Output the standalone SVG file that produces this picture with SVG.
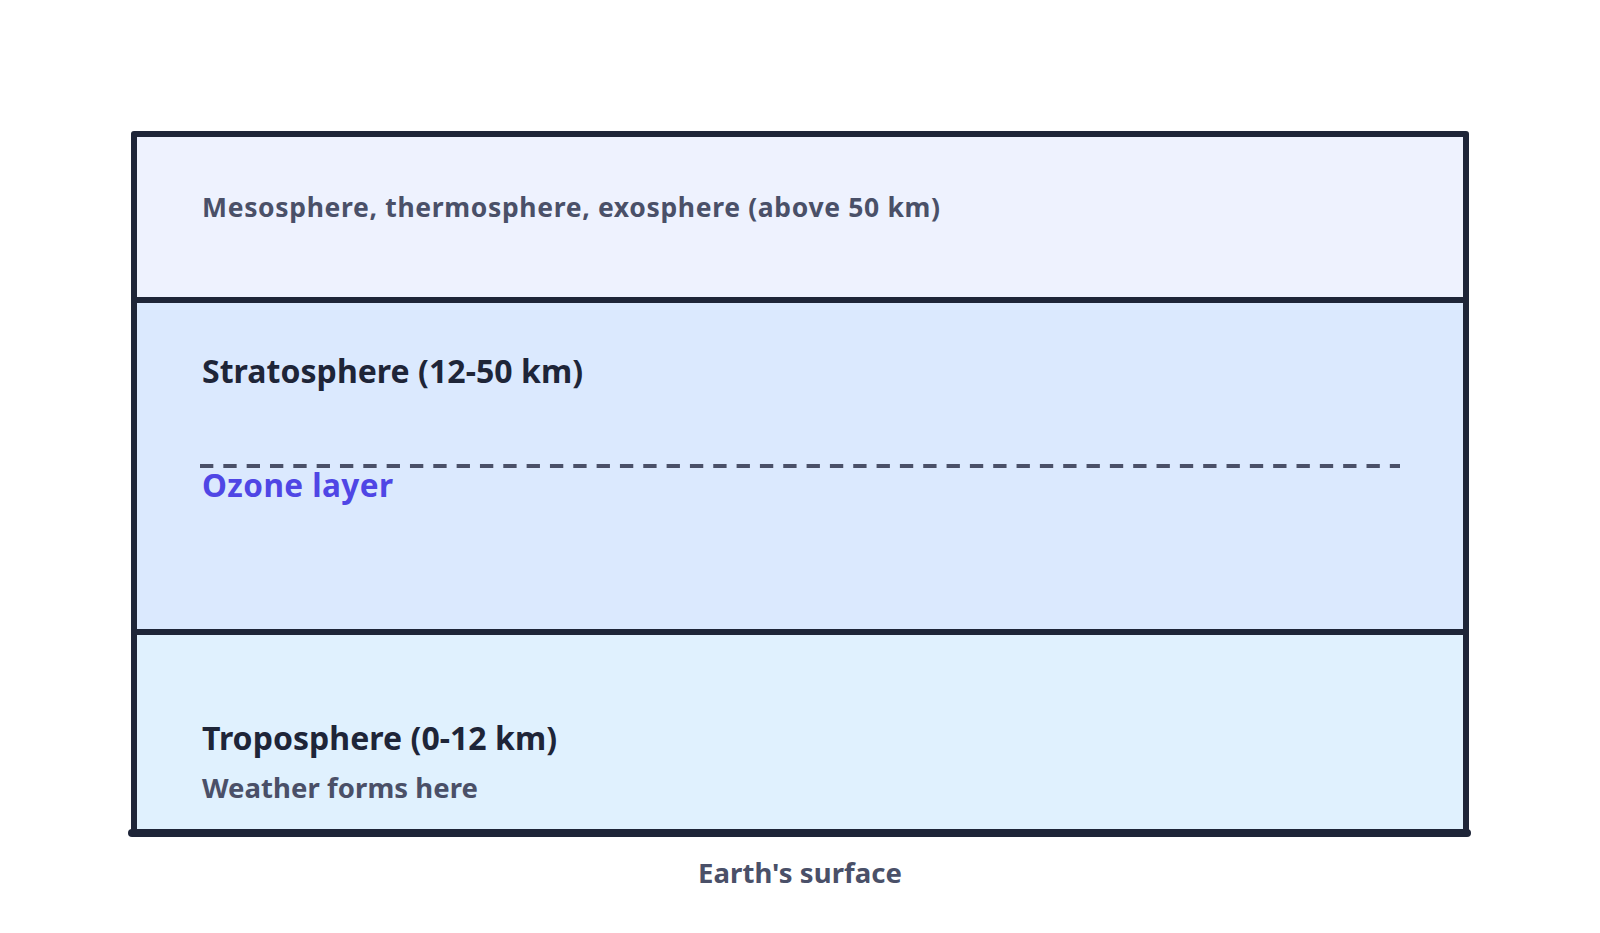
<svg xmlns="http://www.w3.org/2000/svg" width="1600" height="933" viewBox="0 0 1600 933">
<style>
.t{font-family:"Noto Sans","Open Sans","DejaVu Sans",sans-serif;font-weight:700}
.dark{fill:#1e2538}
.gray{fill:#4a5068}
.border{fill:none;stroke:#1e2538;stroke-width:6}
</style>
<rect width="1600" height="933" fill="#ffffff"/>
<g id="mesosphere">
<rect x="134" y="134" width="1332" height="166" fill="#eef2fe"/>
<text class="t gray" x="202" y="217" font-size="26.5" textLength="738">Mesosphere, thermosphere, exosphere (above 50 km)</text>
</g>
<g id="stratosphere">
<rect x="134" y="300" width="1332" height="332" fill="#dbe9fe"/>
<text class="t dark" x="202" y="383" font-size="32" textLength="381">Stratosphere (12-50 km)</text>
</g>
<g id="ozone">
<line x1="200" y1="466" x2="1400" y2="466" stroke="#4a5068" stroke-width="4" stroke-dasharray="13.33 10"/>
<text x="202" y="497" class="t" font-size="31.5" fill="#4f46e5" textLength="191">Ozone layer</text>
</g>
<g id="troposphere">
<rect x="134" y="632" width="1332" height="200" fill="#e0f1fe"/>
<text class="t dark" x="202" y="750" font-size="32" textLength="355">Troposphere (0-12 km)</text>
<text class="t gray" x="202" y="798" font-size="27.5" textLength="276">Weather forms here</text>
</g>
<g id="borders">
<rect class="border" x="134" y="134" width="1332" height="698" stroke-linejoin="round"/>
<line class="border" x1="134" y1="300" x2="1466" y2="300"/>
<line class="border" x1="134" y1="632" x2="1466" y2="632"/>
<line x1="132" y1="833" x2="1467" y2="833" stroke="#1e2538" stroke-width="8" stroke-linecap="round"/>
</g>
<g id="surface">
<text class="t gray" x="698" y="883" font-size="27.5" textLength="204">Earth's surface</text>
</g>
</svg>
